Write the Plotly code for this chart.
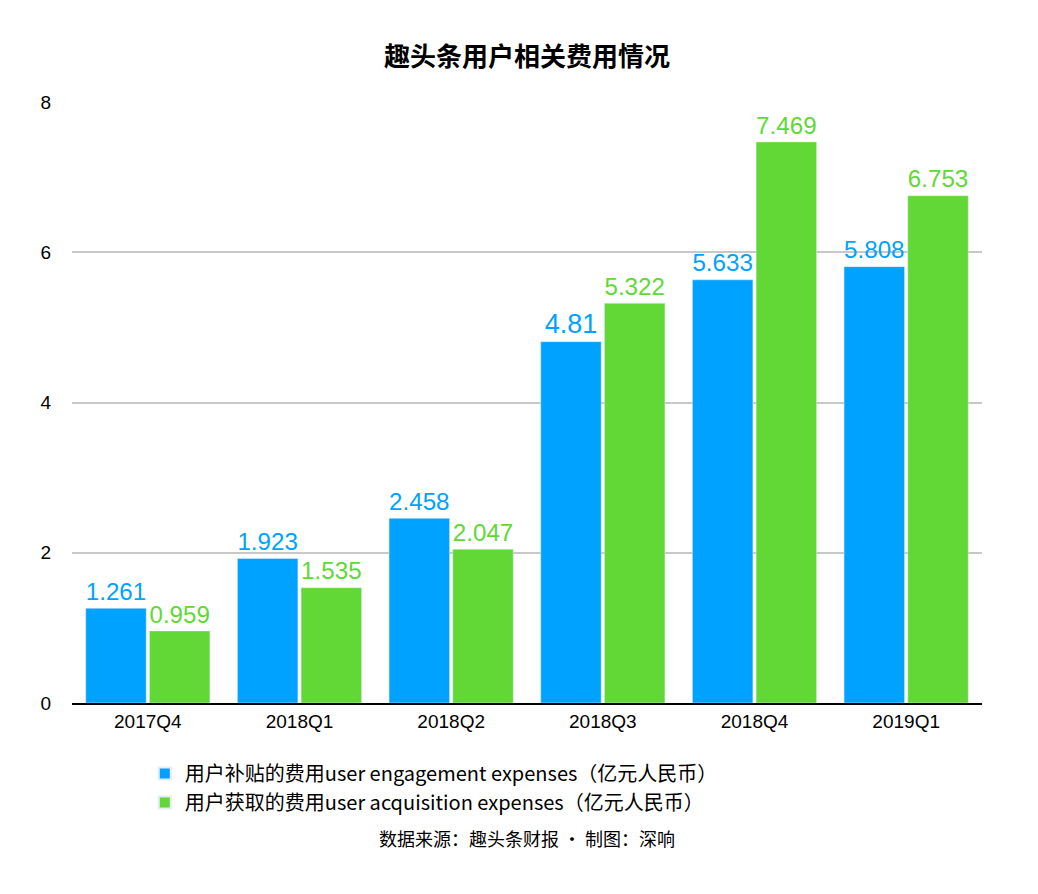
import plotly.graph_objects as go

quarters = ["2017Q4", "2018Q1", "2018Q2", "2018Q3", "2018Q4", "2019Q1"]
engagement = [1.261, 1.923, 2.458, 4.81, 5.633, 5.808]
acquisition = [0.959, 1.535, 2.047, 5.322, 7.469, 6.753]

blue = "#00a2ff"
green = "#61d836"
font = "Noto Sans CJK SC"
latin = "Liberation Sans"

fig = go.Figure()
fig.add_bar(x=quarters, y=engagement, name="用户补贴的费用user engagement expenses（亿元人民币）",
            marker_color=blue, text=[str(v) for v in engagement], textposition="outside",
            textfont=dict(color=blue, size=27, family=latin), cliponaxis=False)
fig.add_bar(x=quarters, y=acquisition, name="用户获取的费用user acquisition expenses（亿元人民币）",
            marker_color=green, text=[str(v) for v in acquisition], textposition="outside",
            textfont=dict(color=green, size=27, family=latin), cliponaxis=False)

fig.update_layout(
    width=1038, height=894,
    margin=dict(l=64, r=64, t=94, b=199),
    plot_bgcolor="white", paper_bgcolor="white",
    font=dict(family=font, color="black", size=18),
    title=dict(text="<b>趣头条用户相关费用情况</b>", x=0.5, xanchor="center", y=0.955,
               font=dict(size=26)),
    barmode="group", bargap=0.16, bargroupgap=0.05,
    showlegend=True,
    legend=dict(orientation="v", x=0.08, xanchor="left", y=-0.085, yanchor="top",
                font=dict(size=20), itemsizing="constant", tracegroupgap=4),
    xaxis=dict(showline=True, linecolor="black", linewidth=2, ticks="",
               tickfont=dict(size=19, family=latin)),
    yaxis=dict(range=[0, 8], dtick=2, gridcolor="#c8c8c8", gridwidth=2, zeroline=False,
               tickfont=dict(size=19, family=latin), ticklabelstandoff=20),
    annotations=[dict(text="数据来源：趣头条财报 · 制图：深响", x=0.5, xref="paper",
                      y=-0.25, yref="paper", showarrow=False, font=dict(size=18))],
)
fig.write_html("out.html")
